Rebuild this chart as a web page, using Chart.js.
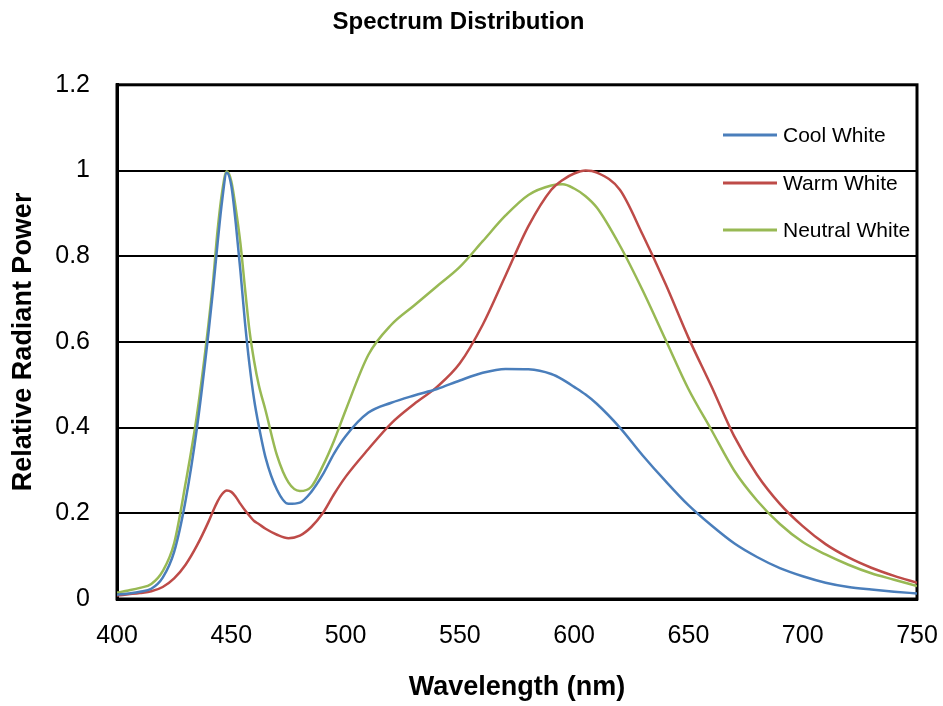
<!DOCTYPE html>
<html>
<head>
<meta charset="utf-8">
<script src="https://cdn.jsdelivr.net/npm/chart.js@4.4.1/dist/chart.umd.min.js"></script>
<style>
  html, body { margin: 0; padding: 0; background: #ffffff; }
  #wrap { width: 943px; height: 706px; }
</style>
</head>
<body>
<div id="wrap"><canvas id="c" width="943" height="706"></canvas></div>
<script>
const titleText = "Spectrum Distribution";
const xTitle = "Wavelength (nm)";
const yTitle = "Relative Radiant Power";
const seriesNames = ["Cool White", "Warm White", "Neutral White"];
const seriesColors = ["#4A7EBB", "#BE4B48", "#98B954"];

const wavelengths = [400,405,410,415,420,425,430,435,440,442,444,446,448,450,452,454,456,458,460,462,465,470,475,480,485,490,495,500,510,520,530,540,550,560,570,580,590,595,600,605,610,620,630,640,650,660,670,680,690,700,710,720,730,740,750];

const coolWhite = [0.010,0.013,0.017,0.024,0.050,0.11,0.23,0.40,0.62,0.72,0.83,0.93,0.995,0.965,0.875,0.765,0.645,0.545,0.465,0.405,0.33,0.255,0.222,0.225,0.25,0.29,0.34,0.38,0.435,0.458,0.475,0.49,0.51,0.528,0.537,0.536,0.525,0.512,0.495,0.477,0.455,0.40,0.335,0.275,0.219,0.172,0.13,0.098,0.072,0.053,0.038,0.028,0.022,0.017,0.013];

const warmWhite = [0.008,0.011,0.014,0.018,0.028,0.048,0.08,0.125,0.18,0.205,0.228,0.245,0.253,0.25,0.238,0.222,0.207,0.194,0.182,0.175,0.164,0.15,0.142,0.148,0.168,0.2,0.245,0.285,0.35,0.41,0.455,0.495,0.55,0.64,0.755,0.87,0.955,0.978,0.993,1.0,0.995,0.955,0.85,0.735,0.61,0.497,0.38,0.29,0.222,0.17,0.128,0.097,0.073,0.054,0.038];

const neutralWhite = [0.015,0.02,0.026,0.035,0.065,0.13,0.27,0.43,0.64,0.74,0.86,0.95,0.998,0.975,0.91,0.83,0.725,0.625,0.555,0.5,0.44,0.335,0.272,0.252,0.262,0.31,0.37,0.44,0.57,0.64,0.685,0.73,0.775,0.835,0.895,0.943,0.965,0.968,0.958,0.94,0.913,0.825,0.72,0.605,0.49,0.395,0.3,0.23,0.175,0.133,0.104,0.08,0.06,0.045,0.03];

const xTicks = [400,450,500,550,600,650,700,750];
const yTicks = [0,0.2,0.4,0.6,0.8,1,1.2];

const FONT = "'Liberation Sans', Arial, Helvetica, sans-serif";
const allSeries = [coolWhite, warmWhite, neutralWhite];

const datasets = allSeries.map((vals, i) => ({
  label: seriesNames[i],
  data: wavelengths.map((w, j) => ({x: w, y: vals[j]})),
  borderColor: seriesColors[i],
  backgroundColor: seriesColors[i],
  borderWidth: 2.5,
  pointRadius: 0,
  cubicInterpolationMode: 'monotone',
  fill: false
}));

const frame = {
  id: 'frame',
  beforeDatasetsDraw(chart) {
    const {ctx, chartArea: a} = chart;
    ctx.save();
    ctx.strokeStyle = '#000';
    ctx.lineWidth = 3;
    ctx.strokeRect(a.left, a.top, a.right - a.left, a.bottom - a.top);
    ctx.restore();
  }
};

const legendBox = {
  id: 'legendBox',
  afterDatasetsDraw(chart) {
    const {ctx} = chart;
    const rows = [135, 183, 230];
    ctx.save();
    ctx.font = "21px " + FONT;
    ctx.textBaseline = 'middle';
    ctx.textAlign = 'left';
    chart.data.datasets.forEach((ds, i) => {
      const y = rows[i];
      ctx.strokeStyle = ds.borderColor;
      ctx.lineWidth = 3;
      ctx.beginPath();
      ctx.moveTo(723, y);
      ctx.lineTo(777, y);
      ctx.stroke();
      ctx.fillStyle = '#000';
      ctx.fillText(ds.label, 783, y + 1);
    });
    ctx.restore();
  }
};

new Chart(document.getElementById('c'), {
  type: 'line',
  data: { datasets },
  plugins: [frame, legendBox],
  options: {
    responsive: false,
    animation: false,
    devicePixelRatio: 1,
    layout: { padding: { left: 0, right: 26, top: 0, bottom: 0 } },
    plugins: {
      legend: { display: false },
      tooltip: { enabled: false },
      title: {
        display: true,
        text: titleText,
        color: '#000',
        font: { family: FONT, size: 24, weight: 'bold' },
        padding: { top: 8, bottom: 48 }
      }
    },
    scales: {
      x: {
        type: 'linear',
        min: 400, max: 750,
        afterBuildTicks(s) { s.ticks = xTicks.map(v => ({value: v})); },
        afterFit(s) { s.height = 107; s.paddingLeft = 0; s.paddingRight = 0; },
        grid: { display: false, drawTicks: false },
        border: { display: true, color: '#000', width: 3 },
        ticks: { color: '#000', font: { family: FONT, size: 25 }, padding: 22, maxRotation: 0 },
        title: { display: true, text: xTitle, color: '#000', font: { family: FONT, size: 27, weight: 'bold' }, padding: { top: 0, bottom: 2 } }
      },
      y: {
        min: 0, max: 1.2,
        afterBuildTicks(s) { s.ticks = yTicks.map(v => ({value: v})); },
        afterFit(s) { s.width = 117; s.paddingTop = 0; s.paddingBottom = 0; },
        grid: { color: '#000', lineWidth: 2, drawTicks: false },
        border: { display: true, color: '#000', width: 3 },
        ticks: { color: '#000', font: { family: FONT, size: 25 }, padding: 27,
                 callback: v => String(Math.round(v * 10) / 10) },
        title: { display: true, text: yTitle, color: '#000', font: { family: FONT, size: 27, weight: 'bold' }, padding: { top: 7, bottom: 0 } }
      }
    }
  }
});
</script>
</body>
</html>
